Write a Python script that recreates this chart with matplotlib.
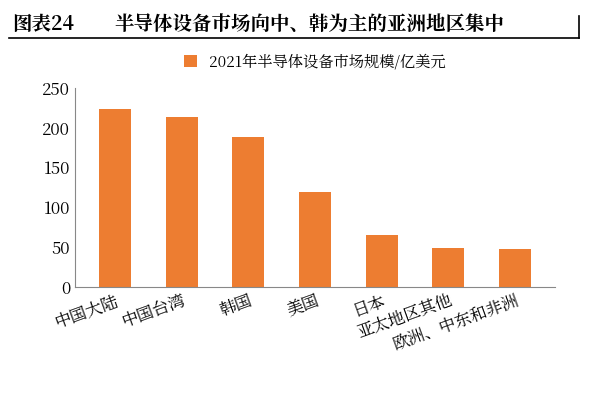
import matplotlib
matplotlib.use("Agg")
import matplotlib.pyplot as plt
from matplotlib import font_manager

cands = [f.name for f in font_manager.fontManager.ttflist if "CJK" in f.name]
fam = "Noto Sans CJK SC" if "Noto Sans CJK SC" in cands else (cands[0] if cands else "DejaVu Sans")
plt.rcParams["font.family"] = "sans-serif"
plt.rcParams["font.sans-serif"] = [fam, "Noto Sans CJK JP", "DejaVu Sans"]
plt.rcParams["axes.unicode_minus"] = False

categories = ["中国大陆", "中国台湾", "韩国", "美国", "日本", "亚太地区其他", "欧洲、中东和非洲"]
values = [223, 214, 189, 119, 65, 49, 47]
series_name = "2021年半导体设备市场规模/亿美元"
yticks = [0, 50, 100, 150, 200, 250]

fig = plt.figure(figsize=(6, 4), dpi=100)
ax = fig.add_axes([0.125, 0.283, 0.8, 0.497])
x = list(range(len(categories)))
ax.bar(x, values, width=0.48, color="#ED7D31", label=series_name)
ax.set_ylim(0, 250)
ax.set_yticks(yticks)
ax.set_xlim(-0.6, len(categories) - 0.4)
ax.set_xticks(x)
ax.set_xticklabels(categories, rotation=20, ha="right", rotation_mode="anchor", fontsize=12)
ax.tick_params(axis="y", labelsize=12, length=0)
ax.tick_params(axis="x", length=0)
for s in ["top", "right"]:
    ax.spines[s].set_visible(False)
ax.spines["left"].set_color("#888888")
ax.spines["bottom"].set_color("#888888")
ax.legend(loc="lower center", bbox_to_anchor=(0.5, 1.02), frameon=False, fontsize=11,
          handlelength=0.8, handleheight=0.8)

fig.text(0.02, 0.925, "图表24", fontsize=14, fontweight="bold")
fig.text(0.19, 0.925, "半导体设备市场向中、韩为主的亚洲地区集中", fontsize=14, fontweight="bold")
fig.add_artist(plt.Line2D([0.015, 0.965], [0.905, 0.905], color="black", lw=1.2))
fig.add_artist(plt.Line2D([0.965, 0.965], [0.905, 0.96], color="black", lw=1.2))
fig.savefig("out.png")
